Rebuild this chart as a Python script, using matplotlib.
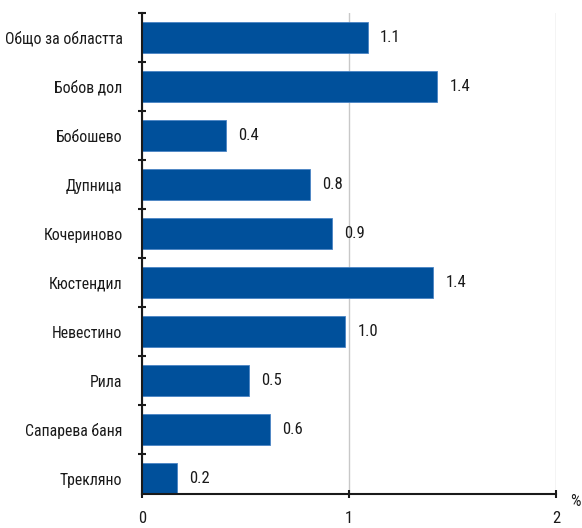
import matplotlib
matplotlib.use("Agg")
import matplotlib.pyplot as plt
import numpy as np
from matplotlib import font_manager

categories = ["Общо за областта", "Бобов дол", "Бобошево", "Дупница", "Кочериново",
              "Кюстендил", "Невестино", "Рила", "Сапарева баня", "Трекляно"]
values = [1.09, 1.425, 0.406, 0.81, 0.918, 1.406, 0.98, 0.517, 0.618, 0.169]
labels = ["1.1", "1.4", "0.4", "0.8", "0.9", "1.4", "1.0", "0.5", "0.6", "0.2"]
xticks = [0, 1, 2]

names = {f.name for f in font_manager.fontManager.ttflist}
fam = "DejaVu Sans"
for cand in ["Roboto Condensed", "DejaVu Sans Condensed", "Liberation Sans Narrow", "Open Sans Condensed"]:
    if cand in names:
        fam = cand
        break
plt.rcParams['font.family'] = [fam, 'DejaVu Sans']
plt.rcParams['font.stretch'] = 'condensed'

fig = plt.figure(figsize=(5.82, 5.28), dpi=100)
ax = fig.add_axes([142/582, 1-494/528, (556-142)/582, (494-13)/528])

n = len(categories)
y = np.arange(n)
color = '#00509b'
ax.barh(y, values, height=0.63, color=color, edgecolor='#4a84c4', linewidth=0.6, zorder=3)
for yi, v, lab in zip(y, values, labels):
    ax.text(v + 0.06, yi, lab, va='center', ha='left', fontsize=12, color='#1a1a1a')

ax.set_ylim(n - 1 + 0.316, -0.5)
ax.set_xlim(0, 2)
ax.set_yticks(y)
ax.set_yticklabels(categories, fontsize=11.3, color='#1a1a1a')
ax.tick_params(axis='y', length=0, pad=14)
ax.set_yticks(np.arange(-0.5, n - 1, 1), minor=True)
ax.tick_params(axis='y', which='minor', length=6, width=1.5, direction='inout', color='#1a1a1a')
ax.set_xticks(xticks)
ax.set_xticklabels([str(t) for t in xticks], fontsize=12, color='#1a1a1a')
ax.tick_params(axis='x', length=6, width=1.5, direction='inout', color='#1a1a1a', pad=9)
ax.grid(axis='x', color='#c8c8c8', linewidth=1, zorder=0)
for s in ['top', 'right']:
    ax.spines[s].set_visible(False)
for s in ['left', 'bottom']:
    ax.spines[s].set_linewidth(1.5)
    ax.spines[s].set_color('#1a1a1a')
    ax.spines[s].set_zorder(4)
ax.text(1.035, -0.015, '%', transform=ax.transAxes, fontsize=12, color='#1a1a1a', va='center', ha='left')

fig.savefig('out.png', dpi=100)
